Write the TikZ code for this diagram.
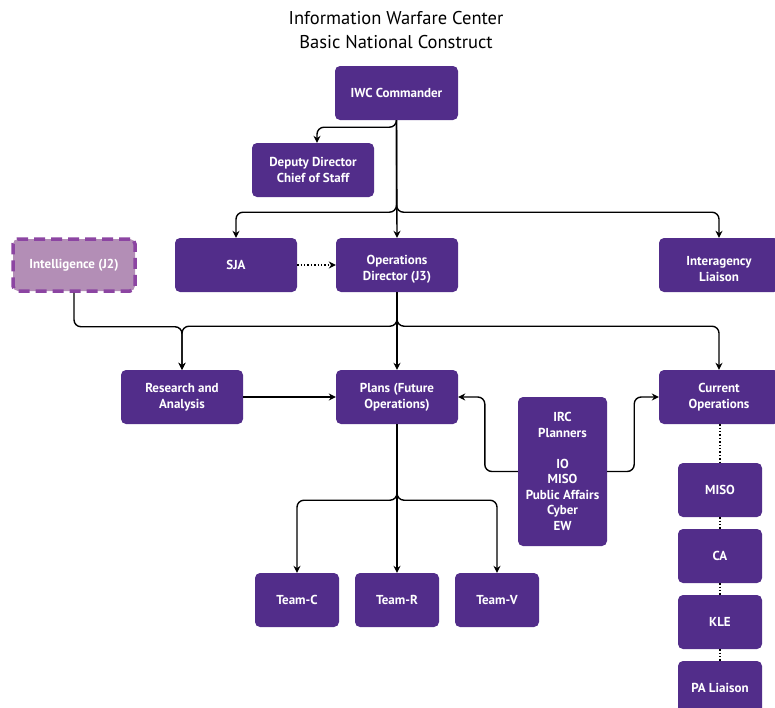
\documentclass[tikz,border=0pt]{standalone}
\usepackage{fontspec}
\setmainfont{PT Sans}
\usetikzlibrary{arrows.meta}
\definecolor{iwc}{HTML}{522D8A}
\definecolor{intelfill}{HTML}{B38EB6}
\definecolor{inteledge}{HTML}{8C45A2}
\begin{document}
\begin{tikzpicture}[x=1pt,y=-1pt,
  box/.style={fill=iwc, rounded corners=5pt, text=white, font=\bfseries\fontsize{13}{16}\selectfont, align=center, inner sep=0pt, minimum height=54pt},
  wbox/.style={box, minimum width=122pt},
  sbox/.style={box, minimum width=84pt},
  lowtext/.style={label={[text=white, font=\bfseries\fontsize{13}{16}\selectfont, align=center, yshift=-4pt]center:#1}},
  intelbox/.style={box, fill=intelfill, draw=inteledge, line width=3.5pt, dash pattern=on 11pt off 6pt, minimum width=122pt, minimum height=52pt},
  conn/.style={line width=1.4pt, rounded corners=7pt, -{Stealth[length=7pt,width=7pt]}},
  dotconn/.style={line width=1.4pt, dotted},
  titlefont/.style={font=\fontsize{18.5}{24}\selectfont, align=center}]
\useasboundingbox (0,0) rectangle (775,707);
\node[titlefont] (title) at (396,30) {Information Warfare Center\\Basic National Construct};
\node[box, minimum width=123pt] (cmd) at (396.5,93) {IWC Commander};
\node[wbox] (dep) at (313,170) {Deputy Director\\Chief of Staff};
\node[wbox] (sja) at (236,265) {SJA};
\node[wbox, lowtext={Operations\\Director (J3)}] (ops) at (397,265) {};
\node[box, minimum width=120pt, lowtext={Interagency\\Liaison}] (ial) at (719,265) {};
\node[intelbox] (intel) at (74,265) {Intelligence (J2)};
\node[wbox] (ra) at (182,397) {Research and\\Analysis};
\node[wbox] (plans) at (397,397) {Plans (Future\\Operations)};
\node[box, minimum width=120pt] (cur) at (719,397) {Current\\Operations};
\node[box, minimum width=89pt, minimum height=149pt, font=\bfseries\fontsize{13}{15.5}\selectfont] (irc) at (562.5,471.5) {IRC\\Planners\\ \\IO\\MISO\\Public Affairs\\Cyber\\EW};
\node[sbox] (tc) at (297,600) {Team-C};
\node[sbox] (tr) at (397,600) {Team-R};
\node[sbox] (tv) at (497,600) {Team-V};
\node[sbox] (miso) at (720,490) {MISO};
\node[sbox] (ca) at (720,556) {CA};
\node[sbox] (kle) at (720,622) {KLE};
\node[sbox] (pa) at (720,688) {PA Liaison};
% connectors
\draw[conn] (cmd.south) -- ++(0,7) -| ([xshift=4pt]dep.north);
\draw[conn] (cmd.south) -- (ops.north);
\draw[conn] (cmd.south) -- ++(0,92) -| (sja.north);
\draw[conn] (cmd.south) -- ++(0,92) -| (ial.north);
\draw[dotconn, -{Stealth[length=7pt,width=7pt]}] (sja.east) -- (ops.west);
\draw[conn] (ops.south) -- ++(0,34) -| (ra.north);
\draw[conn] (ops.south) -- (plans.north);
\draw[conn] (ops.south) -- ++(0,34) -| (cur.north);
\draw[conn] (intel.south) -- ++(0,34) -| (ra.north);
\draw[conn] (ra.east) -- (plans.west);
\draw[conn] (irc.west) -- ++(-33,0) |- (plans.east);
\draw[conn] (irc.east) -- ++(27,0) |- (cur.west);
\draw[conn] (plans.south) -- ++(0,76) -| (tc.north);
\draw[conn] (plans.south) -- (tr.north);
\draw[conn] (plans.south) -- ++(0,76) -| (tv.north);
\draw[dotconn] (cur.south -| miso.north) -- (miso.north);
\draw[dotconn] (miso.south) -- (ca.north);
\draw[dotconn] (ca.south) -- (kle.north);
\draw[dotconn] (kle.south) -- (pa.north);
\end{tikzpicture}
\end{document}
